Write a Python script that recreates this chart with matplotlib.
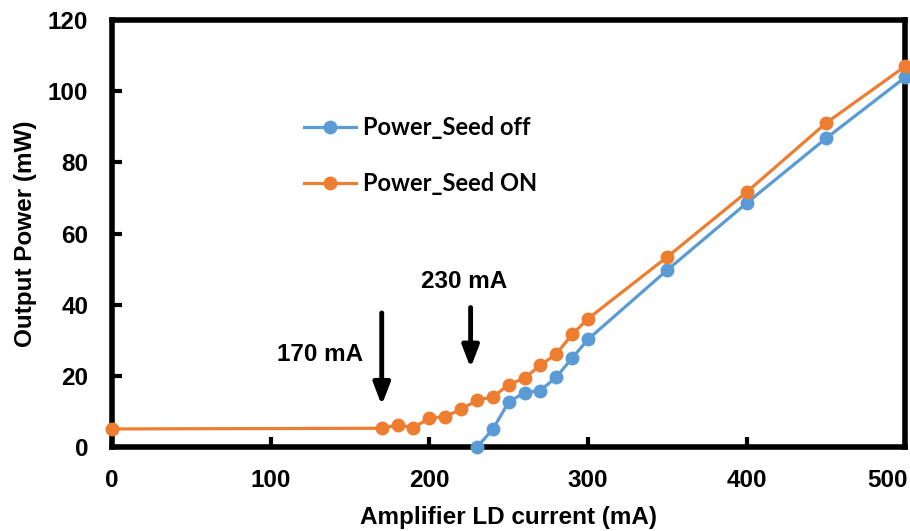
import matplotlib
matplotlib.use('Agg')
import matplotlib.pyplot as plt
import matplotlib.transforms as mtransforms

plt.rcParams['font.family'] = ['Liberation Sans', 'DejaVu Sans']
plt.rcParams['font.weight'] = 'bold'

current_off = [230, 240, 250, 260, 270, 280, 290, 300, 350, 400, 450, 500]
power_off = [0.0, 5.0, 12.7, 15.3, 15.9, 19.7, 25.0, 30.3, 49.8, 68.6, 86.8, 104.0]

current_on = [0, 170, 180, 190, 200, 210, 220, 230, 240, 250, 260, 270, 280,
              290, 300, 350, 400, 450, 500]
power_on = [5.1, 5.3, 6.2, 5.5, 8.1, 8.6, 10.6, 13.2, 14.1, 17.5, 19.4, 23.0,
            26.2, 31.7, 36.1, 53.5, 71.7, 91.1, 107.1]

arrow_labels = ['170 mA', '230 mA']
arrow_x = [170, 226]
arrow_top = [38.5, 40]
arrow_tip = [11, 21.5]
label_xy = [(131, 26), (222, 46.5)]

blue = '#5B9BD5'
orange = '#ED7D31'

fig = plt.figure(figsize=(9.1, 5.31), dpi=100)
ax = fig.add_axes([0.123, 0.158, 0.872, 0.804])

ax.plot(current_off, power_off, '-o', color=blue, lw=2.3, ms=9,
        label='Power_Seed off', clip_on=False, zorder=3)
ax.plot(current_on, power_on, '-o', color=orange, lw=2.3, ms=9,
        label='Power_Seed ON', clip_on=False, zorder=3)

for lab, x, top, tip, (tx, ty) in zip(arrow_labels, arrow_x, arrow_top,
                                       arrow_tip, label_xy):
    ax.annotate('', xy=(x, tip), xytext=(x, top),
                arrowprops=dict(arrowstyle='-|>,head_width=0.5,head_length=1.3',
                                color='black', lw=3.5))
    ax.text(tx, ty, lab, ha='center', va='center', fontsize=17.5,
            fontweight='bold')

ax.set_xlim(0, 500)
ax.set_ylim(0, 120)
ax.set_xticks(range(0, 501, 100))
ax.set_yticks(range(0, 121, 20))
ax.tick_params(direction='in', length=7, width=3, labelsize=17.5)
ax.tick_params(axis='x', pad=16)
ax.tick_params(axis='y', pad=17)
for s in ax.spines.values():
    s.set_linewidth(4)

ax.set_xlabel('Amplifier LD current (mA)', fontsize=17.5, fontweight='bold',
              labelpad=10)
ax.set_ylabel('Output Power (mW)', fontsize=17.5, fontweight='bold',
              labelpad=8)

leg = ax.legend(loc='upper left', bbox_to_anchor=(0.215, 0.825), frameon=False,
                prop={'family': 'Lato', 'weight': 'bold', 'size': 17},
                handlelength=2.2, handletextpad=0.3, labelspacing=1.4)

# keep the last x label inside the picture
fig.canvas.draw()
last = ax.xaxis.get_major_ticks()[-1].label1
last.set_horizontalalignment('right')
last.set_transform(last.get_transform() + mtransforms.ScaledTranslation(
    2 / 100, 0, fig.dpi_scale_trans))

fig.savefig('out.png', dpi=100)
